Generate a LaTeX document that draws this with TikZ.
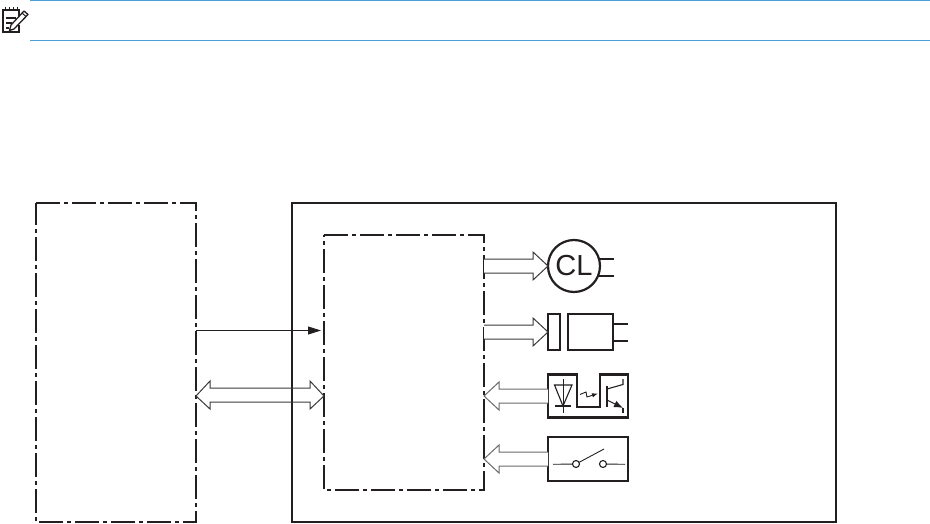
\documentclass[tikz,border=0pt]{standalone}
\usepackage{fontspec}
\setmainfont{Liberation Sans}
\usetikzlibrary{calc,arrows.meta}
\definecolor{rulecol}{HTML}{4A9FD6}
\definecolor{ink}{HTML}{231F20}
\definecolor{busdark}{HTML}{3A3A3A}
\definecolor{busgrey}{HTML}{6A6A6A}
\tikzset{
  x=1pt,y=-1pt,
  solidbox/.style={draw=ink,line width=2.5pt,rectangle,inner sep=0,outer sep=0},
  framebox/.style={rectangle,inner sep=0,outer sep=0},
  dashframe/.style={draw=ink,line width=2.5pt,line cap=butt,dash pattern=on 24pt off 4pt on 4pt off 4pt},
  solidframe/.style={draw=ink,line width=2.5pt,line join=miter},
  bus/.style={draw=busdark,line width=1pt,line join=miter,fill=white},
  busin/.style={draw=busgrey,line width=1pt,line join=miter,fill=white},
  lead/.style={draw=ink,line width=1.9pt},
  thin/.style={draw=ink,line width=0.9pt},
  rulel/.style={draw=rulecol,line width=1pt},
}
% hollow arrow running from a named start to a named tip, horizontal
\newcommand{\hollowbus}[4]{% style, start, tip, direction sign
  \draw[#1] ($(#2)+(0,-7)$) -- ($(#3)+({-15*#4},-7)$) -- ($(#3)+({-15*#4},-14)$) -- (#3)
     -- ($(#3)+({-15*#4},14)$) -- ($(#3)+({-15*#4},7)$) -- ($(#2)+(0,7)$);
}
\begin{document}
\begin{tikzpicture}
\useasboundingbox (0,0) rectangle (930,524);

% note rules
\coordinate (ruleAa) at (30,0.8);
\coordinate (ruleAb) at (930,0.8);
\coordinate (ruleBa) at (30,40.5);
\coordinate (ruleBb) at (930,40.5);
\draw[rulel] (ruleAa) -- (ruleAb);
\draw[rulel] (ruleBa) -- (ruleBb);

% note icon
\draw[draw=ink,line width=2pt,line join=miter] (19,16) -- (19,10.5) -- (3,10.5) -- (3,32) -- (19,32) -- (19,25);
\draw[draw=ink,line width=1.1pt] (5.5,7) -- (5.5,11) (9.5,7) -- (9.5,11) (13.5,7) -- (13.5,11) (17.5,7) -- (17.5,11);
\draw[draw=ink,line width=1.2pt] (6,18) -- (16,18) (6,23) -- (12,23) (6,28) -- (9,28);
\draw[draw=ink,fill=white,line width=1.3pt,line join=round] (11,25) -- (24,11) -- (28,14.5) -- (14,29) -- (9.5,30.5) -- cycle;
\draw[draw=ink,line width=1pt] (22,13) -- (26,16.5);

% dash-dot and solid frames
\node[framebox,minimum width=160pt,minimum height=319pt] (left) at (116,362.5) {};
\node[framebox,minimum width=544pt,minimum height=319pt] (outer) at (564,362.5) {};
\node[framebox,minimum width=160pt,minimum height=255pt] (inner) at (404,362.5) {};
\draw[solidframe] (outer.north west) rectangle (outer.south east);
\draw[dashframe] (left.north west) -- (left.north east) -- (left.south east) -- (left.south west) -- (left.north west);
\draw[dashframe] (inner.north west) -- (inner.north east) -- (inner.south east) -- (inner.south west) -- (inner.north west);

% signal and bidirectional bus
\coordinate (sigA) at (left.east |- 0,330.5);
\coordinate (sigB) at (321,330.5);
\draw[draw=ink,line width=0.9pt,-{Triangle[length=13pt,width=8pt]}] (sigA) -- (sigB);
\coordinate (dblL) at (left.east |- 0,396);
\coordinate (dblR) at (inner.west |- 0,396);
\draw[bus,fill=none] (dblL) -- ++(14,-15) -- ++(0,7) -- ($(dblR)+(-14,-8)$) -- ($(dblR)+(-14,-15)$) -- (dblR)
  -- ($(dblR)+(-14,13)$) -- ($(dblR)+(-14,6)$) -- ($(dblL)+(14,6)$) -- ($(dblL)+(14,13)$) -- cycle;

% clutch
\node[draw=ink,line width=2.2pt,circle,inner sep=0,outer sep=0,minimum size=52pt,font=\fontsize{29}{29}\selectfont,text=ink] (cl) at (574,266) {CL};
\coordinate (clS) at (inner.east |- cl);
\hollowbus{bus}{clS}{cl.west}{1}
\coordinate (clLa) at (614,259);
\coordinate (clLb) at (614,276);
\draw[lead] (clLa) -- (599,259);
\draw[lead] (clLb) -- (598,276);

% solenoid
\node[solidbox,minimum width=12pt,minimum height=36pt] (sol) at (554,332) {};
\node[solidbox,minimum width=45pt,minimum height=36pt] (solb) at (590.5,332) {};
\coordinate (solS) at (inner.east |- sol);
\hollowbus{bus}{solS}{sol.west}{1}
\coordinate (solLa) at (628,324);
\coordinate (solLb) at (628,341);
\draw[lead] (solLa) -- (612,324);
\draw[lead] (solLb) -- (612,341);

% photointerrupter
\node[framebox,minimum width=80pt,minimum height=43pt] (opto) at (588,396) {};
\draw[solidframe,fill=white] (opto.north west) -- (577,374.5) -- (577,407) -- (600,407) -- (600,374.5) -- (opto.north east) -- (opto.south east) -- (opto.south west) -- cycle;
\coordinate (optoS) at (opto.west);
\coordinate (optoT) at (inner.east |- opto);
\hollowbus{busin}{optoS}{optoT}{-1}
% diode
\coordinate (dA) at (563,379);
\coordinate (dB) at (563,413);
\draw[thin] (dA) -- (dB);
\draw[thin,line width=1.1pt,line join=miter] (554.5,385) -- (572,385) -- (563,406) -- cycle;
\draw[thin,line width=1.1pt] (555,406) -- (571,406);
% light path
\draw[thin,line width=0.9pt,-{Latex[length=6pt,width=4.5pt]}] (580,394.5) -- (586,392) -- (587,397) -- (598,393.5);
% transistor
\draw[thin,line width=2.2pt] (607,386) -- (607,407);
\draw[thin,line width=1.1pt] (607,389) -- (623,384.5) -- (623,379);
\draw[thin,line width=1.1pt] (623,413) -- (623,408);
\draw[thin,line width=1.1pt,-{Latex[length=9pt,width=7pt]}] (607,400) -- (623,408);

% switch
\node[solidbox,minimum width=80pt,minimum height=44pt] (sw) at (588,459) {};
\coordinate (swT) at (inner.east |- sw);
\hollowbus{busin}{sw.west}{swT}{-1}
\node[draw=ink,line width=1.1pt,circle,inner sep=0,outer sep=0,minimum size=7pt] (swA) at (576,464) {};
\node[draw=ink,line width=1.1pt,circle,inner sep=0,outer sep=0,minimum size=7pt] (swB) at (603,464) {};
\coordinate (swL) at (553,464.3);
\coordinate (swR) at (625,464.3);
\coordinate (swBlade) at (604,449);
\draw[thin] (swL) -- (swA);
\draw[thin] (swB) -- (swR);
\draw[thin] (swA) -- (swBlade);
\end{tikzpicture}
\end{document}
